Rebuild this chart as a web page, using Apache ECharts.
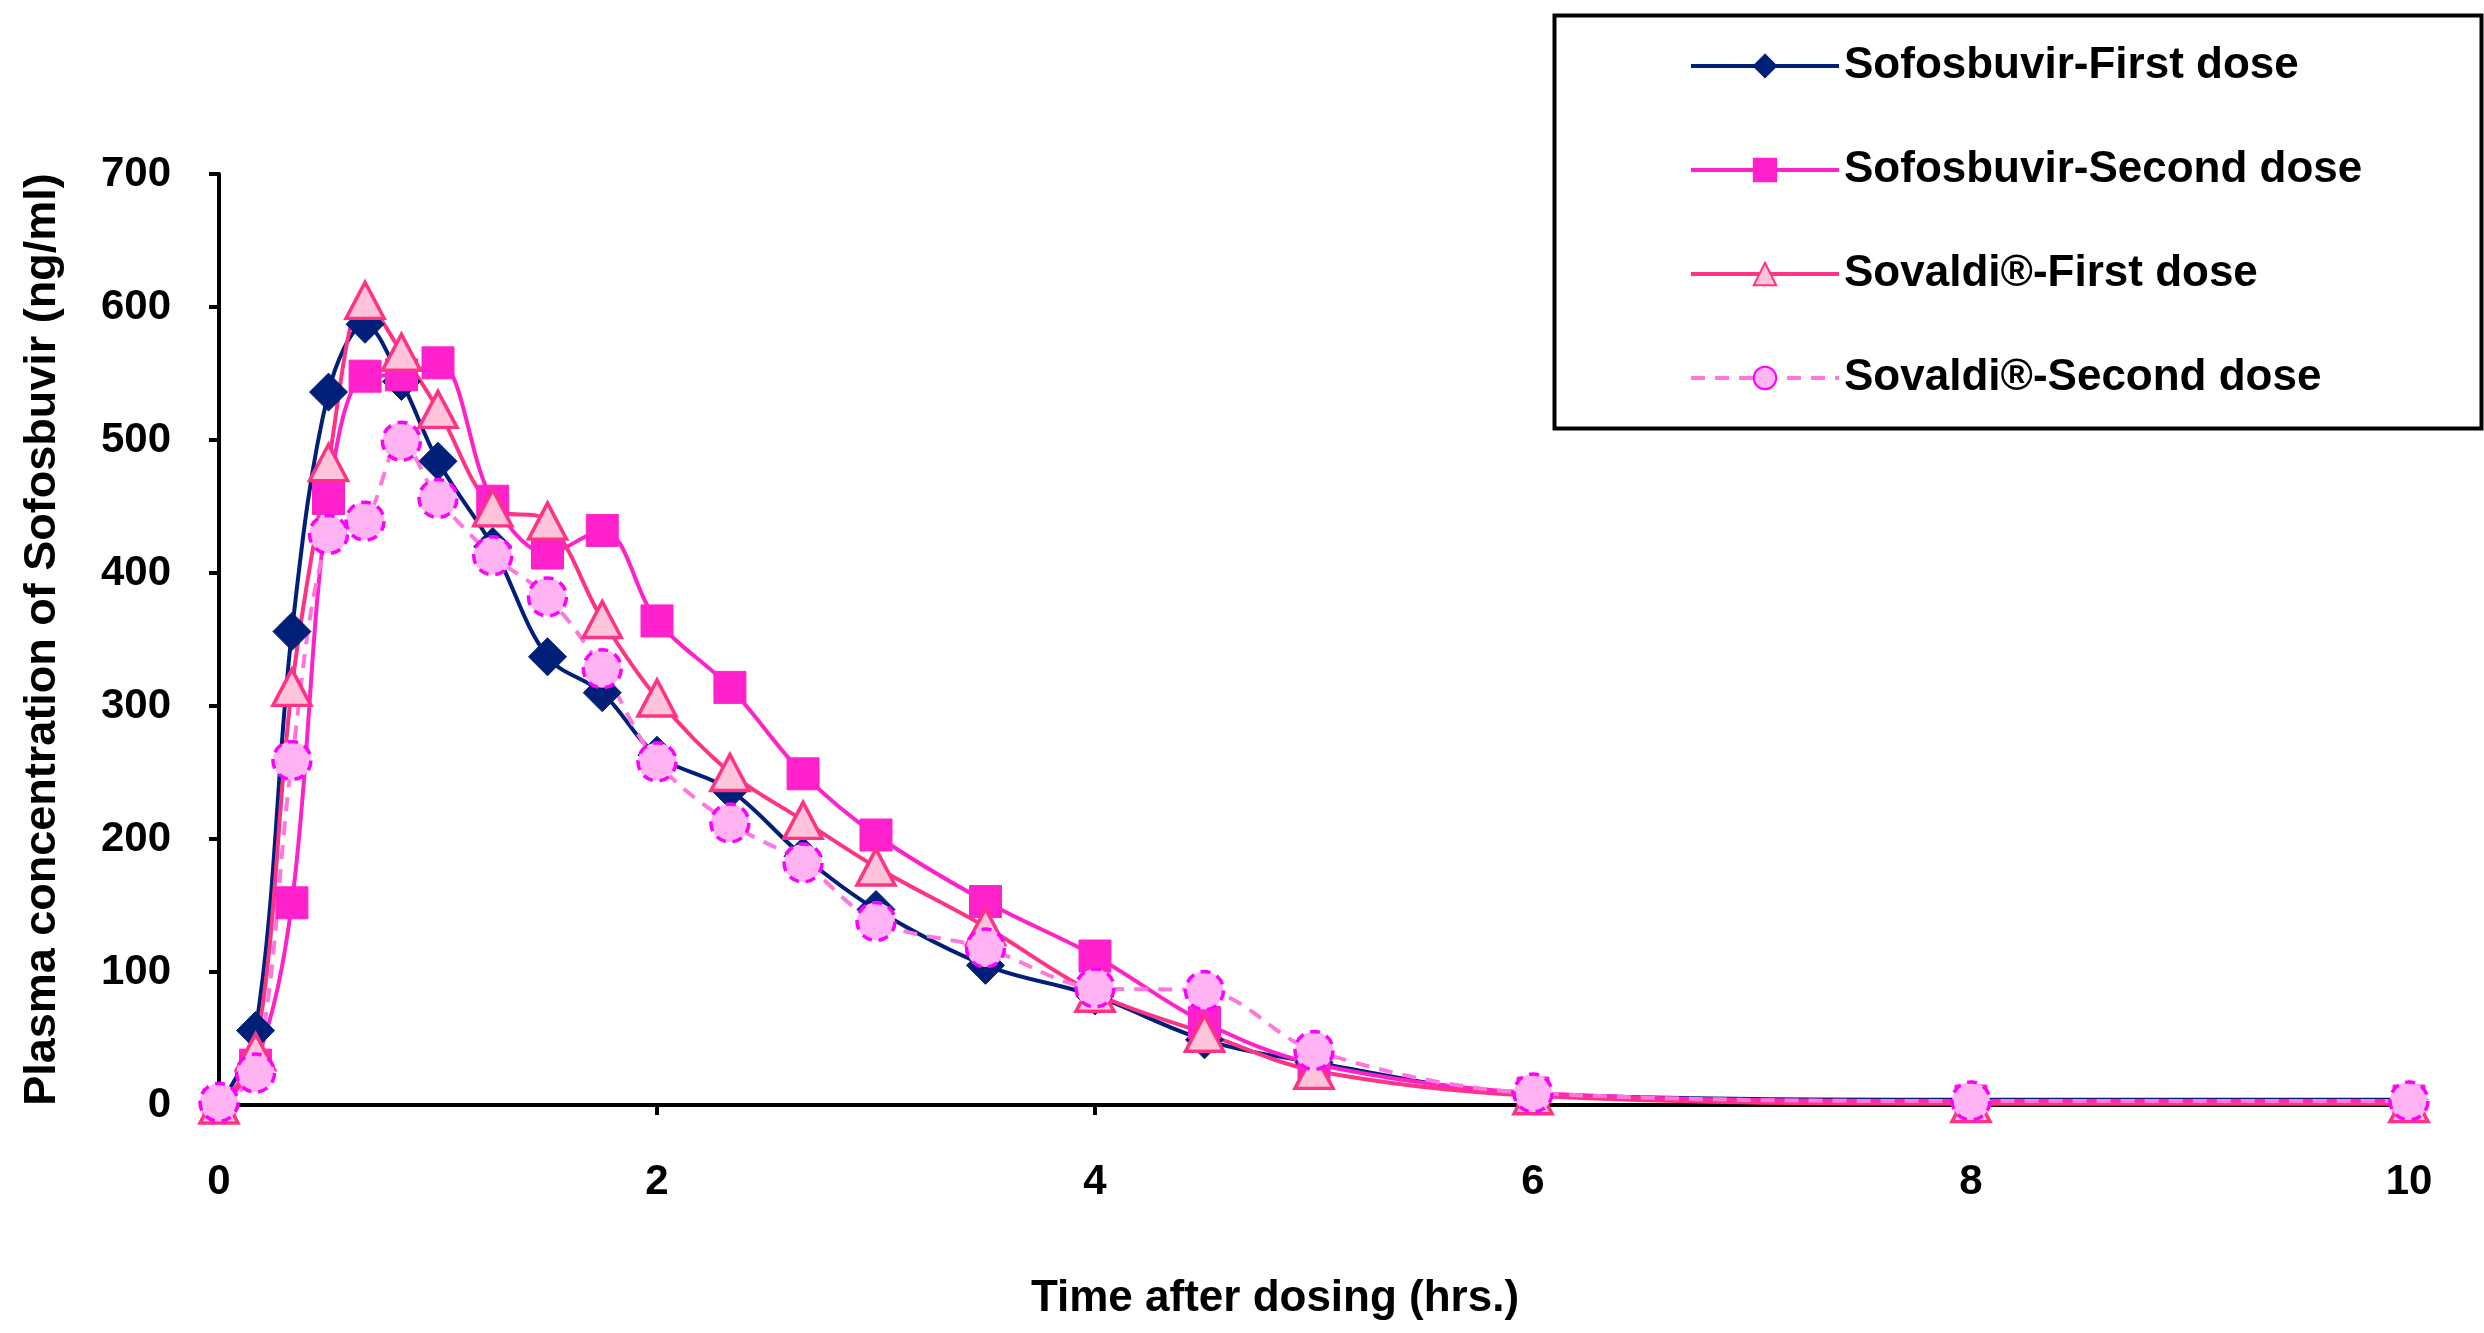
<!DOCTYPE html>
<html>
<head>
<meta charset="utf-8">
<script src="https://cdn.jsdelivr.net/npm/echarts@6/dist/echarts.min.js"></script>
<style>
html,body{margin:0;padding:0;background:#fff;}
#chart{width:2484px;height:1333px;}
</style>
</head>
<body>
<div id="chart"></div>
<script>
const timeHrs = [0, 0.167, 0.333, 0.5, 0.667, 0.833, 1, 1.25, 1.5, 1.75, 2, 2.333, 2.667, 3, 3.5, 4, 4.5, 5, 6, 8, 10];
const sofFirst = [0, 56, 356, 536, 587, 544, 484, 420, 337, 310, 263, 237, 187, 147, 105, 82, 49, 32, 8, 4, 4];
const sofSecond = [0, 30, 152, 456, 548, 549, 558, 454, 415, 432, 364, 314, 249, 203, 153, 112, 62, 31, 9, 3, 3];
const sovFirst = [0, 40, 314, 483, 605, 566, 523, 449, 439, 365, 306, 250, 214, 179, 134, 84, 54, 26, 7, 1, 1];
const sovSecond = [2, 24, 259, 429, 439, 499, 456, 413, 382, 328, 258, 212, 182, 138, 118, 88, 86, 41, 9, 3, 3];
const seriesNames = ['Sofosbuvir-First dose', 'Sofosbuvir-Second dose', 'Sovaldi®-First dose', 'Sovaldi®-Second dose'];
const xTicks = [0, 2, 4, 6, 8, 10];
const yTicks = [0, 100, 200, 300, 400, 500, 600, 700];

const FONT = '"Liberation Sans", Arial, sans-serif';
function pairs(ys){ return timeHrs.map((t,i)=>[t, ys[i]]); }

const chart = echarts.init(document.getElementById('chart'), null, {renderer:'canvas'});
chart.setOption({
  backgroundColor:'#ffffff',
  animation:false,
  grid:{left:219, right:75, top:174, bottom:228, containLabel:false},
  xAxis:{
    type:'value', min:xTicks[0], max:xTicks[xTicks.length-1], interval:2,
    name:'Time after dosing (hrs.)', nameLocation:'middle', nameGap:172,
    nameTextStyle:{fontFamily:FONT, fontWeight:'bold', fontSize:44, color:'#000', padding:[0,78,0,0]},
    axisLine:{show:true, onZero:false, lineStyle:{color:'#000', width:4}},
    axisTick:{show:true, length:10, lineStyle:{color:'#000', width:4}},
    axisLabel:{margin:56, fontFamily:FONT, fontWeight:'bold', fontSize:42, color:'#000'},
    splitLine:{show:false}
  },
  yAxis:{
    type:'value', min:yTicks[0], max:yTicks[yTicks.length-1], interval:100,
    name:'Plasma concentration of Sofosbuvir (ng/ml)', nameLocation:'middle', nameGap:154,
    nameTextStyle:{fontFamily:FONT, fontWeight:'bold', fontSize:45, color:'#000'},
    axisLine:{show:true, lineStyle:{color:'#000', width:4}},
    axisTick:{show:true, length:10, lineStyle:{color:'#000', width:4}},
    axisLabel:{margin:48, fontFamily:FONT, fontWeight:'bold', fontSize:42, color:'#000'},
    splitLine:{show:false}
  },
  graphic:[{
    type:'rect', left:1552, top:13, z:100,
    shape:{width:927, height:413},
    style:{fill:null, stroke:'#000', lineWidth:4}
  }],
  legend:{
    orient:'vertical', left:1689, top:41, padding:0,
    itemWidth:148, itemHeight:28, itemGap:54,
    lineStyle:{width:4},
    textStyle:{fontFamily:FONT, fontWeight:'bold', fontSize:44, color:'#000', lineHeight:50},
    data:seriesNames
  },
  series:[
    {
      name:seriesNames[0], type:'line', data:pairs(sofFirst), smooth:0.35,
      symbol:'diamond', symbolSize:[38,38],
      lineStyle:{color:'#001F78', width:4},
      itemStyle:{color:'#001F78', borderColor:'#001F78', borderWidth:1}
    },
    {
      name:seriesNames[1], type:'line', data:pairs(sofSecond), smooth:0.35,
      symbol:'rect', symbolSize:[32,32],
      lineStyle:{color:'#FF22CC', width:4},
      itemStyle:{color:'#FF22CC', borderColor:'#FF22CC', borderWidth:1}
    },
    {
      name:seriesNames[2], type:'line', data:pairs(sovFirst), smooth:0.35,
      symbol:'triangle', symbolSize:[38,36],
      lineStyle:{color:'#FF3385', width:4},
      itemStyle:{color:'#FFC4DA', borderColor:'#FF3385', borderWidth:3.5}
    },
    {
      name:seriesNames[3], type:'line', data:pairs(sovSecond), smooth:0.35,
      symbol:'circle', symbolSize:38,
      lineStyle:{color:'#FF77DD', width:4, type:[14,10]},
      itemStyle:{color:'#FFB3F3', borderColor:'#FF00FF', borderWidth:3.5, borderType:[10,7]}
    }
  ]
});
</script>
</body>
</html>
